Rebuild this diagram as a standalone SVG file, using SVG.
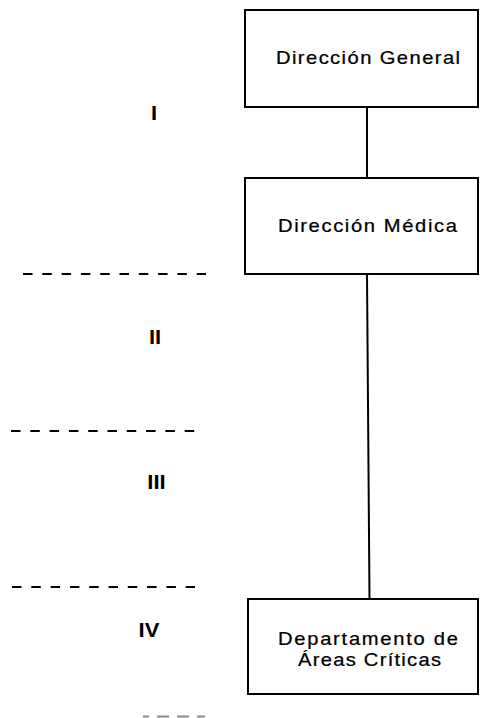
<svg xmlns="http://www.w3.org/2000/svg" width="480" height="718" viewBox="0 0 480 718">
<style>
.box{fill:#fff;stroke:#000;stroke-width:2}
.conn{stroke:#000;stroke-width:2;fill:none}
.dash{stroke:#000;stroke-width:1.8;stroke-dasharray:9.5 9.8;fill:none}
.t{font-family:"Liberation Sans",Arial,sans-serif;font-size:18px;fill:#000;stroke:#000;stroke-width:0.25}
.lv{font-family:"Liberation Sans",Arial,sans-serif;font-size:20px;font-weight:bold;fill:#000;text-anchor:middle}
</style>
<rect width="480" height="718" fill="#fff"/>
<g id="levels">
<line class="dash" x1="23" y1="274" x2="206" y2="274"/>
<line class="dash" x1="11" y1="431" x2="195" y2="431"/>
<line class="dash" x1="12" y1="587" x2="195" y2="587"/>
<line class="dash" x1="143" y1="716.5" x2="205" y2="716.5" style="stroke:#888;stroke-dasharray:6 8 12 8 12 8 8"/>
<text class="lv" transform="translate(154,120) scale(1.1,1)">I</text>
<text class="lv" transform="translate(155,344) scale(1.1,1)">II</text>
<text class="lv" transform="translate(156.5,489) scale(1.1,1)">III</text>
<text class="lv" transform="translate(149,637) scale(1.1,1)">IV</text>
</g>
<g id="connectors">
<line class="conn" x1="367" y1="107" x2="367" y2="178"/>
<line class="conn" x1="367" y1="274" x2="369.5" y2="599"/>
</g>
<g id="direccion-general">
<rect class="box" x="245" y="10" width="233" height="97"/>
<text class="t" transform="translate(276,64) scale(1.12,1)" textLength="164.3" lengthAdjust="spacing">Dirección General</text>
</g>
<g id="direccion-medica">
<rect class="box" x="245" y="178" width="233" height="96"/>
<text class="t" transform="translate(278,232) scale(1.12,1)" textLength="159.8" lengthAdjust="spacing">Dirección Médica</text>
</g>
<g id="departamento-areas-criticas">
<rect class="box" x="248" y="599" width="230" height="95"/>
<text class="t" transform="translate(278,645) scale(1.12,1)" textLength="160.7" lengthAdjust="spacing">Departamento de</text>
<text class="t" transform="translate(298,666) scale(1.12,1)" textLength="127.7" lengthAdjust="spacing">Áreas Críticas</text>
</g>
</svg>
